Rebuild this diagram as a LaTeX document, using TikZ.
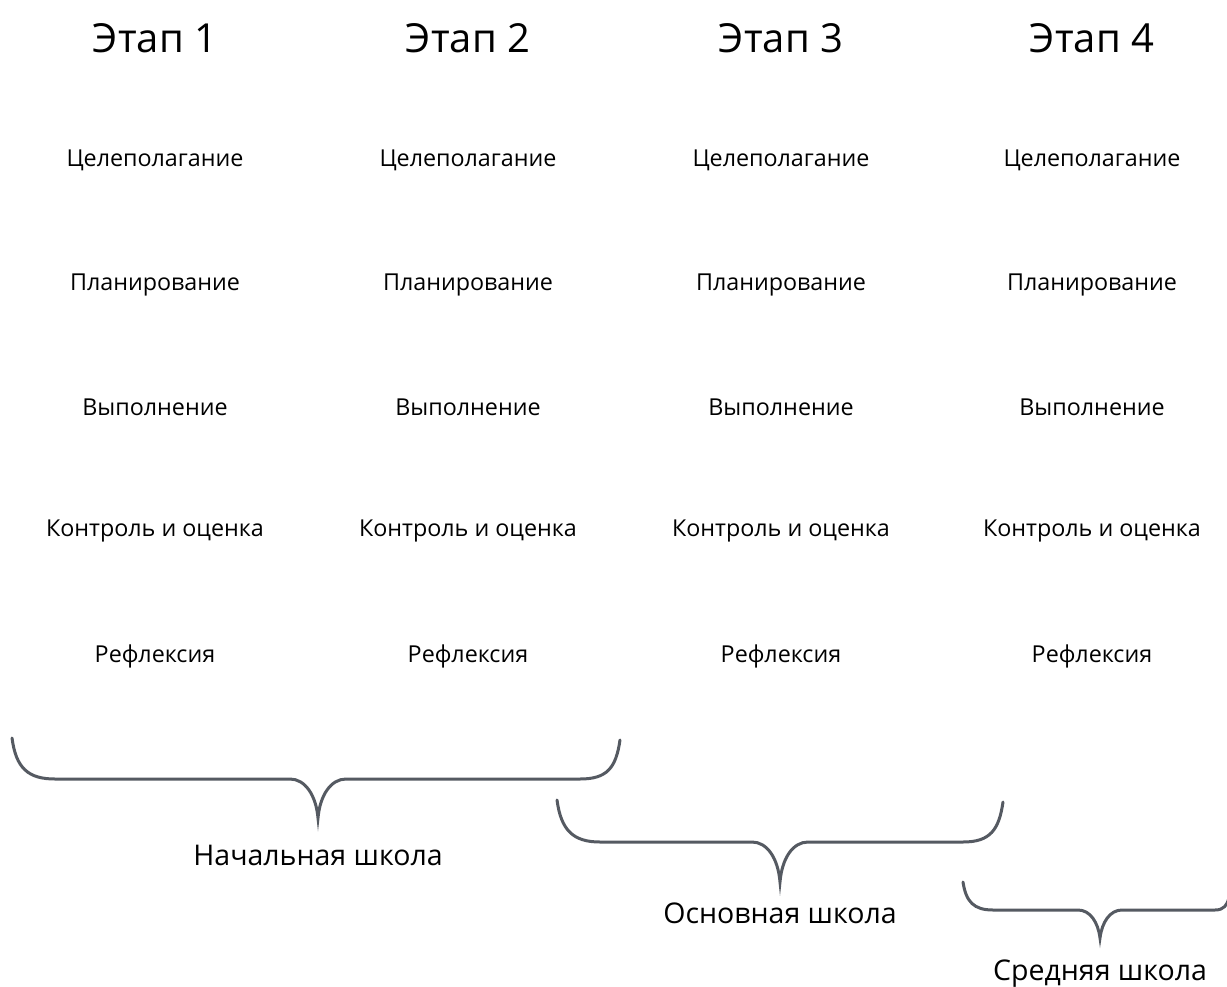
\documentclass[tikz,border=0pt]{standalone}
\usepackage{fontspec}
\setmainfont{Open Sans}
\definecolor{bracegray}{RGB}{85,90,98}
\begin{document}
\begin{tikzpicture}[x=1pt,y=-1pt,
  title/.style={font=\fontsize{40}{44}\selectfont},
  item/.style={font=\fontsize{23.3}{27}\selectfont},
  school/.style={font=\fontsize{28.5}{32}\selectfont},
  brace/.style={draw=bracegray, line width=3pt, line cap=round}]
\useasboundingbox[fill=white] (0,0) rectangle (1227,986);
\foreach \x/\n in {155/1,468/2,781/3,1092/4}{
  \node[title] (t\n) at (\x,38) {Этап \n};
  \node[item] (a\n) at (\x,160) {Целеполагание};
  \node[item] (b\n) at (\x,285) {Планирование};
  \node[item] (c\n) at (\x,407) {Выполнение};
  \node[item] (d\n) at (\x,531) {Контроль и оценка};
  \node[item] (e\n) at (\x,656) {Рефлексия};
}
\draw[brace] (12,738) .. controls (16,768) and (28,779) .. (55,779) -- (290,779)
  .. controls (305,779) and (316,795) .. (318,818)
  .. controls (320,795) and (331,779) .. (346,779) -- (580,779)
  .. controls (607,779) and (616,768) .. (620,740);
\coordinate (tip1) at (318,818);
\node[school, below=24pt] (s1) at (tip1) {Начальная школа};
\draw[brace] (557,800) .. controls (561,830) and (573,842) .. (600,842) -- (752,842)
  .. controls (767,842) and (778,858) .. (780,882)
  .. controls (782,858) and (793,842) .. (808,842) -- (963,842)
  .. controls (990,842) and (999,830) .. (1003,802);
\coordinate (tip2) at (780,882);
\node[school, below=17pt] (s2) at (tip2) {Основная школа};
\draw[brace] (963,882) .. controls (966,902) and (974,910) .. (993,910) -- (1078,910)
  .. controls (1090,910) and (1098,922) .. (1100,938)
  .. controls (1102,922) and (1110,910) .. (1122,910) -- (1215,910)
  .. controls (1224,910) and (1227,905) .. (1229,898);
\coordinate (tip3) at (1100,938);
\node[school, below=18pt] (s3) at (tip3) {Средняя школа};
\end{tikzpicture}
\end{document}
